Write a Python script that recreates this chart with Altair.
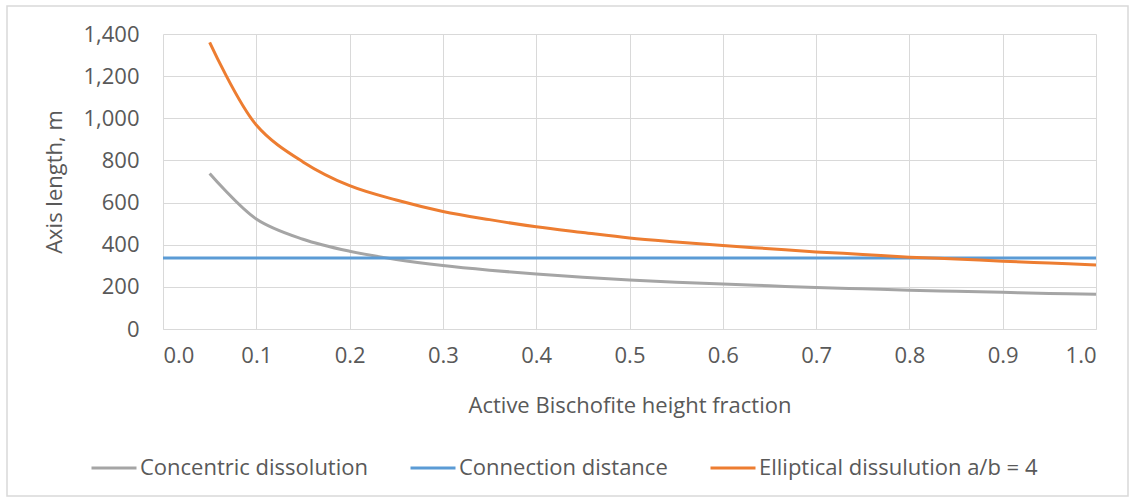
import altair as alt
import pandas as pd

fractions = [0.05, 0.1, 0.15, 0.2, 0.25, 0.3, 0.35, 0.4, 0.45, 0.5,
             0.55, 0.6, 0.65, 0.7, 0.75, 0.8, 0.85, 0.9, 0.95, 1.0]
concentric = [738, 522, 426, 369, 330, 301, 279, 261, 246, 233,
              222, 213, 205, 197, 191, 184, 179, 174, 169, 165]
elliptical = [1360, 968, 793, 680, 612, 558, 519, 485, 458, 432,
              413, 396, 381, 366, 354, 341, 332, 322, 313, 304]
connection_x = [0.0, 1.0]
connection = [337, 337]

series_names = ["Concentric dissolution", "Connection distance", "Elliptical dissulution a/b = 4"]
series_colors = ["#A5A5A5", "#5B9BD5", "#ED7D31"]
x_ticks = [0.0, 0.1, 0.2, 0.3, 0.4, 0.5, 0.6, 0.7, 0.8, 0.9, 1.0]
y_ticks = [0, 200, 400, 600, 800, 1000, 1200, 1400]

rows = []
for x, v in zip(fractions, concentric):
    rows.append({"x": x, "y": v, "series": series_names[0]})
for x, v in zip(connection_x, connection):
    rows.append({"x": x, "y": v, "series": series_names[1]})
for x, v in zip(fractions, elliptical):
    rows.append({"x": x, "y": v, "series": series_names[2]})
df = pd.DataFrame(rows)

FONT = "Open Sans"
TXT = "#595959"
GRID = "#D9D9D9"
FS = 22

lines = alt.Chart(df).mark_line(strokeWidth=3, interpolate="catmull-rom").encode(
    x=alt.X("x:Q", scale=alt.Scale(domain=[0, 1], nice=False),
            axis=alt.Axis(values=x_ticks, format=".1f", title="Active Bischofite height fraction",
                          grid=True, gridColor=GRID, ticks=False, domainColor=GRID,
                          labelPadding=16, titlePadding=29)),
    y=alt.Y("y:Q", scale=alt.Scale(domain=[0, 1400], nice=False),
            axis=alt.Axis(values=y_ticks, format=",.0f", title="Axis length, m",
                          grid=True, gridColor=GRID, ticks=False, domain=False,
                          labelPadding=24, titlePadding=16)),
    color=alt.Color("series:N", sort=series_names,
                    scale=alt.Scale(domain=series_names, range=series_colors),
                    legend=alt.Legend(title=None, orient="none", direction="horizontal",
                                      legendX=-73, legendY=410, symbolType="stroke",
                                      symbolSize=2025, symbolStrokeWidth=3,
                                      labelOffset=2, columnPadding=36, labelLimit=400)),
)

border = alt.Chart(alt.Data(values=[{}])).mark_rect(
    fill=None, stroke=GRID, strokeWidth=1.5
).encode(x=alt.value(-156), x2=alt.value(965), y=alt.value(-28), y2=alt.value(462))

chart = alt.layer(border, lines).properties(
    width=933, height=295,
    autosize=alt.AutoSizeParams(type="none"),
    padding={"left": 163, "top": 34, "right": 39, "bottom": 173},
).configure_view(stroke=None).configure_axis(
    labelFont=FONT, titleFont=FONT, labelFontSize=FS, titleFontSize=FS,
    labelColor=TXT, titleColor=TXT, titleFontWeight="normal"
).configure_legend(
    labelFont=FONT, labelFontSize=FS, labelColor=TXT
)

chart.save("out.html", embed_options={"renderer": "svg", "actions": False})
